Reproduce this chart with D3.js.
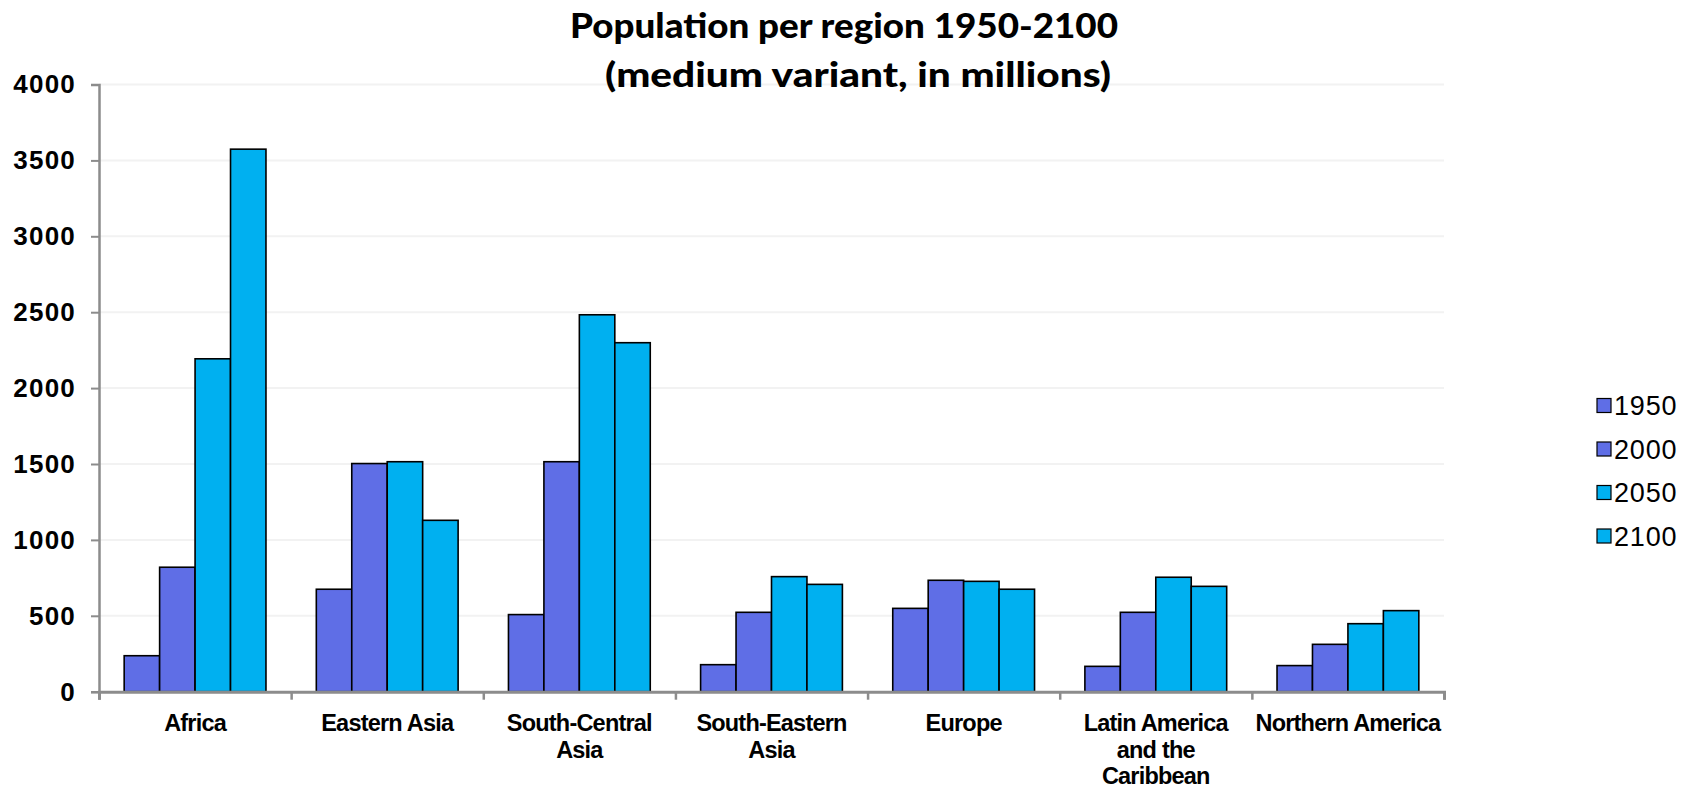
<!DOCTYPE html>
<html>
<head>
<meta charset="utf-8">
<script src="https://cdn.jsdelivr.net/npm/d3@7"></script>
<style>
  html, body { margin: 0; padding: 0; background: #fff; }
  svg { display: block; }
</style>
</head>
<body>
<svg id="chart" width="1691" height="788"></svg>
<script>
// ---- Data ----
const categories = ["Africa", "Eastern Asia", "South-Central Asia", "South-Eastern Asia", "Europe", "Latin America and the Caribbean", "Northern America"];
const categoryLines = [["Africa"], ["Eastern Asia"], ["South-Central", "Asia"], ["South-Eastern", "Asia"], ["Europe"], ["Latin America", "and the", "Caribbean"], ["Northern America"]];
const seriesNames = ["1950", "2000", "2050", "2100"];
const values1950 = [237, 675, 508, 178, 549, 167, 172];
const values2000 = [820, 1503, 1515, 523, 734, 523, 312];
const values2050 = [2193, 1515, 2483, 758, 727, 754, 448];
const values2100 = [3574, 1129, 2299, 707, 675, 694, 534];
const yTicks = [0, 500, 1000, 1500, 2000, 2500, 3000, 3500, 4000];
const titleLines = ["Population per region 1950-2100", "(medium variant, in millions)"];

const seriesValues = [values1950, values2000, values2050, values2100];
const seriesColors = ["#5f6ee6", "#5f6ee6", "#00b0f0", "#00b0f0"];

// ---- Layout ----
const svg = d3.select("#chart");
const plot = { left: 99, right: 1444, top: 84.5, bottom: 691.7 };

const x0 = d3.scaleBand().domain(categories).range([plot.left, plot.right]).paddingInner(0.262).paddingOuter(0.131);
const x1 = d3.scaleBand().domain(seriesNames).range([0, x0.bandwidth()]).padding(0);
const y = d3.scaleLinear().domain([0, 4000]).range([plot.bottom, plot.top]);

// gridlines
svg.append("g")
  .selectAll("line")
  .data(yTicks.filter(d => d > 0))
  .join("line")
  .attr("x1", plot.left).attr("x2", plot.right)
  .attr("y1", d => y(d)).attr("y2", d => y(d))
  .attr("stroke", "#f2f2f2").attr("stroke-width", 2);

// bars
const groups = svg.append("g")
  .selectAll("g")
  .data(categories)
  .join("g")
  .attr("transform", d => `translate(${x0(d)},0)`);

groups.selectAll("rect")
  .data((c, i) => seriesNames.map((s, k) => ({ s, k, v: seriesValues[k][i] })))
  .join("rect")
  .attr("x", d => x1(d.s))
  .attr("y", d => y(d.v))
  .attr("width", x1.bandwidth())
  .attr("height", d => y(0) - y(d.v))
  .attr("fill", d => seriesColors[d.k])
  .attr("stroke", "#000")
  .attr("stroke-width", 1.6);

// y axis
const yAxis = d3.axisLeft(y).tickValues(yTicks).tickSize(8).tickPadding(15).tickFormat(d3.format("d"));
const gy = svg.append("g").attr("transform", `translate(${plot.left},0)`).call(yAxis);
gy.select(".domain").attr("stroke", "#8c8c8c").attr("stroke-width", 2.5);
gy.selectAll(".tick line").attr("stroke", "#8c8c8c").attr("stroke-width", 2);
gy.selectAll(".tick text")
  .attr("font-family", "Liberation Sans, Arial, sans-serif")
  .attr("font-size", 26).attr("font-weight", "bold")
  .attr("letter-spacing", 1.2)
  .attr("fill", "#000");

// x axis
const categoryTicks = categories.map(c => x0(c) - x0.step() * x0.paddingInner() / 2).concat([plot.right]);
const xTickScale = d3.scaleLinear().domain([plot.left, plot.right]).range([plot.left, plot.right]);
const xAxis = d3.axisBottom(xTickScale).tickValues(categoryTicks).tickSize(8).tickFormat("");
const gx = svg.append("g").attr("transform", `translate(0,${plot.bottom})`).call(xAxis);
gx.select(".domain").attr("stroke", "#8c8c8c").attr("stroke-width", 3);
gx.selectAll(".tick line").attr("stroke", "#8c8c8c").attr("stroke-width", 2.5);

// category labels
const labels = svg.append("g")
  .selectAll("text")
  .data(categories)
  .join("text")
  .attr("x", d => x0(d) + x0.bandwidth() / 2)
  .attr("y", 731)
  .attr("text-anchor", "middle")
  .attr("font-family", "Liberation Sans, Arial, sans-serif")
  .attr("font-size", 23.5).attr("font-weight", "bold")
  .attr("letter-spacing", -0.8)
  .attr("fill", "#000");
labels.selectAll("tspan")
  .data((d, i) => categoryLines[i])
  .join("tspan")
  .attr("x", function() { return d3.select(this.parentNode).attr("x"); })
  .attr("dy", (d, i) => i === 0 ? 0 : 26.5)
  .text(d => d);

// title
svg.append("g")
  .selectAll("text")
  .data(titleLines)
  .join("text")
  .attr("x", (d, i) => i === 0 ? 844 : 858)
  .attr("y", (d, i) => i === 0 ? 38 : 87)
  .attr("text-anchor", "middle")
  .attr("font-family", "Lato, 'Open Sans', sans-serif")
  .attr("font-size", 34).attr("font-weight", "900")
  .attr("textLength", (d, i) => i === 0 ? 548 : 506)
  .attr("lengthAdjust", "spacingAndGlyphs")
  .attr("fill", "#000")
  .text(d => d);

// legend
const legendY = d3.scalePoint().domain(seriesNames).range([405.5, 536]);
const legend = svg.append("g")
  .selectAll("g")
  .data(seriesNames)
  .join("g")
  .attr("transform", d => `translate(1597,${legendY(d)})`);
legend.append("rect")
  .attr("x", 0).attr("y", -7).attr("width", 14).attr("height", 14)
  .attr("fill", (d, i) => seriesColors[i])
  .attr("stroke", "#000").attr("stroke-width", 1.2);
legend.append("text")
  .attr("x", 17).attr("y", 9.5)
  .attr("font-family", "Liberation Sans, Arial, sans-serif")
  .attr("font-size", 27)
  .attr("letter-spacing", 0.8)
  .attr("fill", "#000")
  .text(d => d);
</script>
</body>
</html>
